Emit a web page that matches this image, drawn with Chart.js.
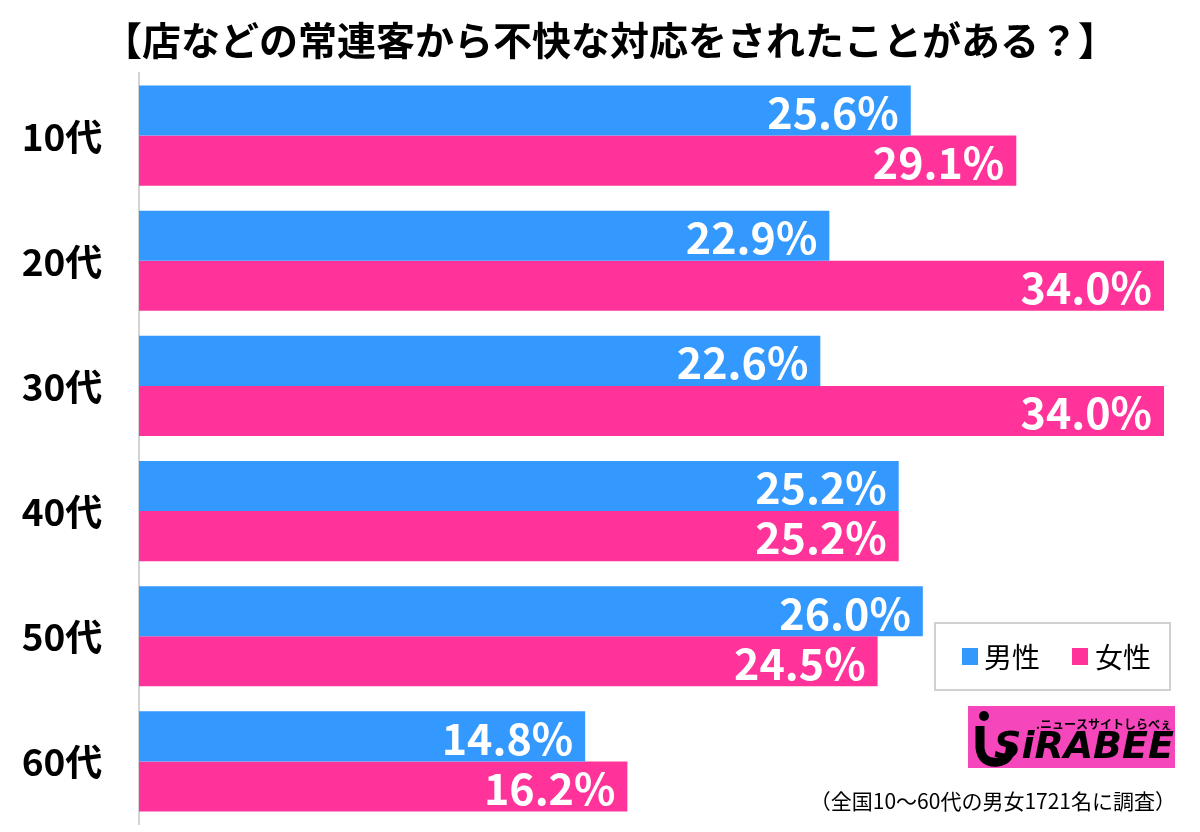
<!DOCTYPE html>
<html>
<head>
<meta charset="utf-8">
<script src="https://cdn.jsdelivr.net/npm/chart.js@4"></script>
<style>
  html, body { margin: 0; padding: 0; background: #fff; }
  #wrap { width: 1200px; height: 832px; position: relative; }
</style>
</head>
<body>
<div id="wrap"><canvas id="c" width="1200" height="832"></canvas></div>
<script>
  // 店などの常連客から不快な対応 — horizontal grouped bars
  const TITLE = '【店などの常連客から不快な対応をされたことがある？】';
  const NOTE = '（全国10〜60代の男女1721名に調査）';
  const AGES = ['10代', '20代', '30代', '40代', '50代', '60代'];
  const MALE = [25.6, 22.9, 22.6, 25.2, 26.0, 14.8];
  const FEMALE = [29.1, 34.0, 34.0, 25.2, 24.5, 16.2];
  const SERIES = ['男性', '女性'];

  const BLUE = '#3399FF';
  const PINK = '#FF3399';
  const JP = "'Noto Sans CJK JP', 'Noto Sans', sans-serif";

  // value labels inside bar ends, category labels, title, legend, logo, note
  const decor = {
    id: 'decor',
    afterDatasetsDraw(chart) {
      const ctx = chart.ctx;
      ctx.save();
      ctx.fillStyle = '#fff';
      ctx.font = 'bold 43px ' + JP;
      ctx.textAlign = 'right';
      ctx.textBaseline = 'middle';
      chart.data.datasets.forEach((ds, i) => {
        chart.getDatasetMeta(i).data.forEach((bar, j) => {
          ctx.fillText(ds.data[j].toFixed(1) + '%', bar.x - 12, bar.y + 2);
        });
      });
      // category labels
      const y = chart.scales.y;
      ctx.fillStyle = '#000';
      ctx.font = 'bold 37px ' + JP;
      ctx.textAlign = 'center';
      AGES.forEach((a, i) => ctx.fillText(a, 62, y.getPixelForValue(i) + 1));
      ctx.restore();
    },
    afterDraw(chart) {
      const ctx = chart.ctx;
      ctx.save();
      // title
      ctx.fillStyle = '#000';
      ctx.font = 'bold 39px ' + JP;
      ctx.textAlign = 'center';
      ctx.textBaseline = 'middle';
      ctx.fillText(TITLE, 610, 40);

      // legend
      ctx.strokeStyle = '#d0d0d0';
      ctx.lineWidth = 2;
      ctx.fillStyle = '#fff';
      ctx.fillRect(935, 623, 235, 67);
      ctx.strokeRect(935, 623, 235, 67);
      ctx.font = '28px ' + JP;
      ctx.textAlign = 'left';
      ctx.fillStyle = BLUE;
      ctx.fillRect(962, 648, 16, 17);
      ctx.fillStyle = '#000';
      ctx.fillText(SERIES[0], 984, 657);
      ctx.fillStyle = PINK;
      ctx.fillRect(1072, 648, 16, 17);
      ctx.fillStyle = '#000';
      ctx.fillText(SERIES[1], 1095, 657);

      // logo
      ctx.fillStyle = '#F646BC';
      ctx.fillRect(968, 706, 207, 62);
      ctx.fillStyle = '#000';
      ctx.font = 'italic 900 38px "DejaVu Sans", sans-serif';
      ctx.textAlign = 'right';
      ctx.fillText('SiRABEE', 1174, 748);
      ctx.font = 'bold 12px ' + JP;
      ctx.fillText('.ニュースサイトしらべぇ', 1172, 724);
      ctx.beginPath();
      ctx.arc(984, 716, 5, 0, Math.PI * 2);
      ctx.fill();
      ctx.lineWidth = 9;
      ctx.strokeStyle = '#000';
      ctx.beginPath();
      ctx.moveTo(980, 726);
      ctx.lineTo(980, 748);
      ctx.quadraticCurveTo(982, 764, 998, 762);
      ctx.quadraticCurveTo(1012, 760, 1010, 744);
      ctx.stroke();

      // note
      ctx.font = '21px ' + JP;
      ctx.textAlign = 'right';
      ctx.fillStyle = '#000';
      ctx.fillText(NOTE, 1176, 801);
      ctx.restore();
    }
  };

  new Chart(document.getElementById('c'), {
    type: 'bar',
    data: {
      labels: AGES,
      datasets: [
        { label: SERIES[0], data: MALE, backgroundColor: BLUE },
        { label: SERIES[1], data: FEMALE, backgroundColor: PINK },
      ],
    },
    options: {
      indexAxis: 'y',
      responsive: false,
      animation: false,
      devicePixelRatio: 1,
      layout: { padding: { top: 73, bottom: 8, left: 0, right: 36 } },
      datasets: { bar: { categoryPercentage: 0.8, barPercentage: 1.0 } },
      plugins: {
        legend: { display: false },
        title: { display: false },
        tooltip: { enabled: false },
      },
      scales: {
        x: { display: false, min: 0, max: 34 },
        y: {
          grid: { display: false },
          border: { display: true, color: '#d4d4d4', width: 2 },
          ticks: { display: false },
          afterFit(scale) { scale.width = 139; },
        },
      },
    },
    plugins: [decor],
  });
</script>
</body>
</html>
